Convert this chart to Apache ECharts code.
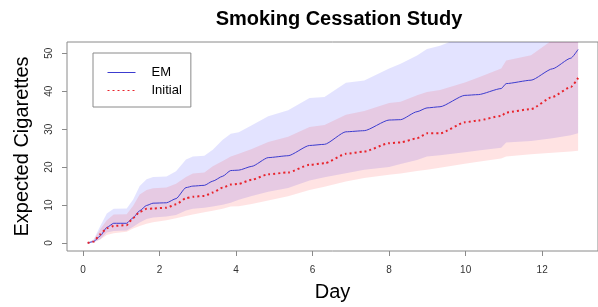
<!DOCTYPE html>
<html>
<head>
<meta charset="utf-8">
<script src="https://cdn.jsdelivr.net/npm/echarts@6/dist/echarts.min.js"></script>
<style>
    html, body { margin: 0; padding: 0; background: #fff; }
    #main { width: 598px; height: 307px; }
</style>
</head>
<body>
<div id="main"></div>
<script>
// values
var days = [0.12, 0.28, 0.45, 0.62, 0.8, 1.14, 1.31, 1.48, 1.66, 1.83, 2.18, 2.43, 2.69, 2.87, 3.17, 3.39, 3.65, 3.86, 4.07, 4.41,
    4.84, 5.36, 5.92, 6.31, 6.87, 7.35, 8.0, 8.3, 8.73, 8.99, 9.33, 9.98, 10.33, 10.93, 11.06, 11.71, 12.27, 12.75, 12.94];
var emMean = [0, 0.4, 1.9, 4.1, 5.2, 5.2, 6.7, 8.5, 9.9, 10.5, 10.6, 11.7, 14.6, 15.0, 15.2, 16.3, 17.6, 19.1, 19.2, 20.2,
    22.5, 23.0, 25.7, 26.0, 29.3, 29.6, 32.4, 32.5, 34.6, 35.6, 35.9, 38.9, 39.1, 40.7, 42.0, 42.9, 45.9, 48.7, 51.0];
var initMean = [0, 0.4, 2.3, 3.9, 4.5, 4.7, 6.6, 8.2, 9.0, 9.1, 9.3, 10.2, 11.8, 12.2, 12.4, 13.3, 14.6, 15.4, 15.6, 16.7,
    18.1, 18.6, 20.6, 21.0, 23.5, 24.1, 26.3, 26.5, 27.6, 28.9, 28.9, 31.8, 32.3, 33.5, 34.4, 35.3, 38.5, 41.1, 43.5];
var emUpper = [0, 1.0, 4.5, 7.8, 9.0, 9.1, 11.5, 15.0, 16.8, 17.4, 17.5, 18.9, 22.0, 22.8, 23.0, 24.6, 27.2, 28.8, 29.2, 31.0,
    33.4, 35.0, 38.2, 38.5, 42.2, 42.8, 46.0, 47.2, 49.4, 51.1, 52.0, 54.5, 55.5, 57.5, 59, 60.5, 63, 66, 68];
var emLower = [0, 0.2, 1.0, 2.8, 3.2, 3.3, 4.3, 5.4, 6.3, 6.7, 7.0, 7.4, 8.6, 9.0, 9.3, 9.6, 10.1, 10.6, 11.4, 12.4,
    13.5, 14.5, 16.5, 17.3, 18.4, 19.3, 20.0, 20.8, 21.9, 22.8, 23.1, 23.9, 24.4, 25.1, 26.5, 26.9, 27.6, 28.4, 28.9];
var initUpper = [0, 0.8, 3.6, 6.0, 7.5, 7.6, 9.8, 12.8, 14.0, 14.4, 14.6, 15.6, 17.4, 18.3, 18.6, 20.2, 21.6, 22.8, 23.5, 24.8,
    26.6, 28.0, 30.6, 31.1, 33.8, 34.8, 36.9, 37.2, 38.9, 39.8, 40.3, 42.3, 43.6, 46.0, 48.1, 49.5, 53.5, 57, 60];
var initLower = [0, 0.2, 0.9, 2.1, 2.6, 3.0, 3.8, 4.5, 5.1, 5.5, 6.0, 6.5, 7.1, 7.5, 8.1, 8.5, 9.0, 9.6, 9.7, 10.3,
    11.2, 12.3, 14.0, 14.8, 16.2, 17.1, 18.0, 18.3, 19.0, 19.3, 19.8, 20.9, 21.4, 22.3, 22.8, 23.4, 23.8, 24.1, 24.3];
var xTicks = [0, 2, 4, 6, 8, 10, 12];
var yTicks = [0, 10, 20, 30, 40, 50];

var FONT = '"Liberation Sans", Arial, sans-serif';
var AXIS_GRAY = '#8a8a8a';

function pairs(ys) {
    return days.map(function (d, i) { return [d, ys[i]]; });
}

// band polygon, upper edge forward then lower edge back
function bandRenderer(upper, lower, color) {
    return function (params, api) {
        var pts = [];
        for (var i = 0; i < days.length; i++) {
            pts.push(api.coord([days[i], upper[i]]));
        }
        for (var j = days.length - 1; j >= 0; j--) {
            pts.push(api.coord([days[j], lower[j]]));
        }
        var cs = params.coordSys;
        return {
            type: 'group',
            clipPath: { type: 'rect', shape: { x: cs.x, y: cs.y, width: cs.width, height: cs.height } },
            children: [{
                type: 'polygon',
                shape: { points: pts },
                style: { fill: color, stroke: null }
            }]
        };
    };
}

var chart = echarts.init(document.getElementById('main'));
chart.setOption({
    animation: false,
    backgroundColor: '#fff',
    title: {
        text: 'Smoking Cessation Study',
        left: 334,
        textAlign: 'center',
        top: 4,
        textStyle: { fontFamily: FONT, fontSize: 20, fontWeight: 'bold', color: '#000' }
    },
    legend: {
        data: ['EM', 'Initial'],
        orient: 'vertical',
        left: 93,
        top: 53,
        padding: [13, 9, 10, 14],
        itemWidth: 28,
        itemHeight: 14,
        itemGap: 5,
        borderColor: AXIS_GRAY,
        borderWidth: 1,
        itemStyle: { opacity: 0 },
        lineStyle: { width: 1 },
        textStyle: { fontFamily: FONT, fontSize: 13, color: '#000', padding: [0, 0, 0, 11] }
    },
    grid: {
        left: 67,
        top: 42,
        right: -5,
        bottom: 55,
        show: true,
        borderColor: AXIS_GRAY,
        borderWidth: 1,
        backgroundColor: 'transparent'
    },
    xAxis: {
        type: 'value',
        min: -0.42,
        max: 13.46,
        name: 'Day',
        nameLocation: 'middle',
        nameGap: 31,
        nameTextStyle: { fontFamily: FONT, fontSize: 20, color: '#000' },
        axisLine: { show: false, onZero: false },
        axisTick: { show: true, length: 5, lineStyle: { color: AXIS_GRAY }, customValues: xTicks },
        axisLabel: { fontFamily: FONT, fontSize: 10, color: '#333', margin: 14, customValues: xTicks },
        splitLine: { show: false }
    },
    yAxis: {
        type: 'value',
        min: -2.1,
        max: 52.96,
        name: 'Expected Cigarettes',
        nameLocation: 'middle',
        nameGap: 35,
        nameTextStyle: { fontFamily: FONT, fontSize: 20, color: '#000' },
        axisLine: { show: false, onZero: false },
        axisTick: { show: true, length: 5, lineStyle: { color: AXIS_GRAY }, customValues: yTicks },
        axisLabel: { fontFamily: FONT, fontSize: 10, color: '#333', margin: 13, rotate: 90, customValues: yTicks },
        splitLine: { show: false }
    },
    series: [
        {
            name: 'EM band',
            type: 'custom',
            data: [0],
            silent: true,
            z: 1,
            renderItem: bandRenderer(emUpper, emLower, 'rgba(0,0,255,0.11)')
        },
        {
            name: 'Initial band',
            type: 'custom',
            data: [0],
            silent: true,
            z: 1,
            renderItem: bandRenderer(initUpper, initLower, 'rgba(255,0,0,0.11)')
        },
        {
            name: 'EM',
            type: 'line',
            data: pairs(emMean),
            symbol: 'none',
            symbolSize: 0,
            showSymbol: false,
            smooth: 0.2,
            smoothMonotone: 'x',
            z: 3,
            lineStyle: { color: '#3c3ccf', width: 1 },
            itemStyle: { color: '#3c3ccf' }
        },
        {
            name: 'Initial',
            type: 'line',
            data: pairs(initMean),
            symbol: 'none',
            symbolSize: 0,
            showSymbol: false,
            smooth: 0.2,
            smoothMonotone: 'x',
            z: 4,
            lineStyle: { color: '#e8242c', width: 2, type: [2, 3] },
            itemStyle: { color: '#e8242c' }
        }
    ]
});
</script>
</body>
</html>
